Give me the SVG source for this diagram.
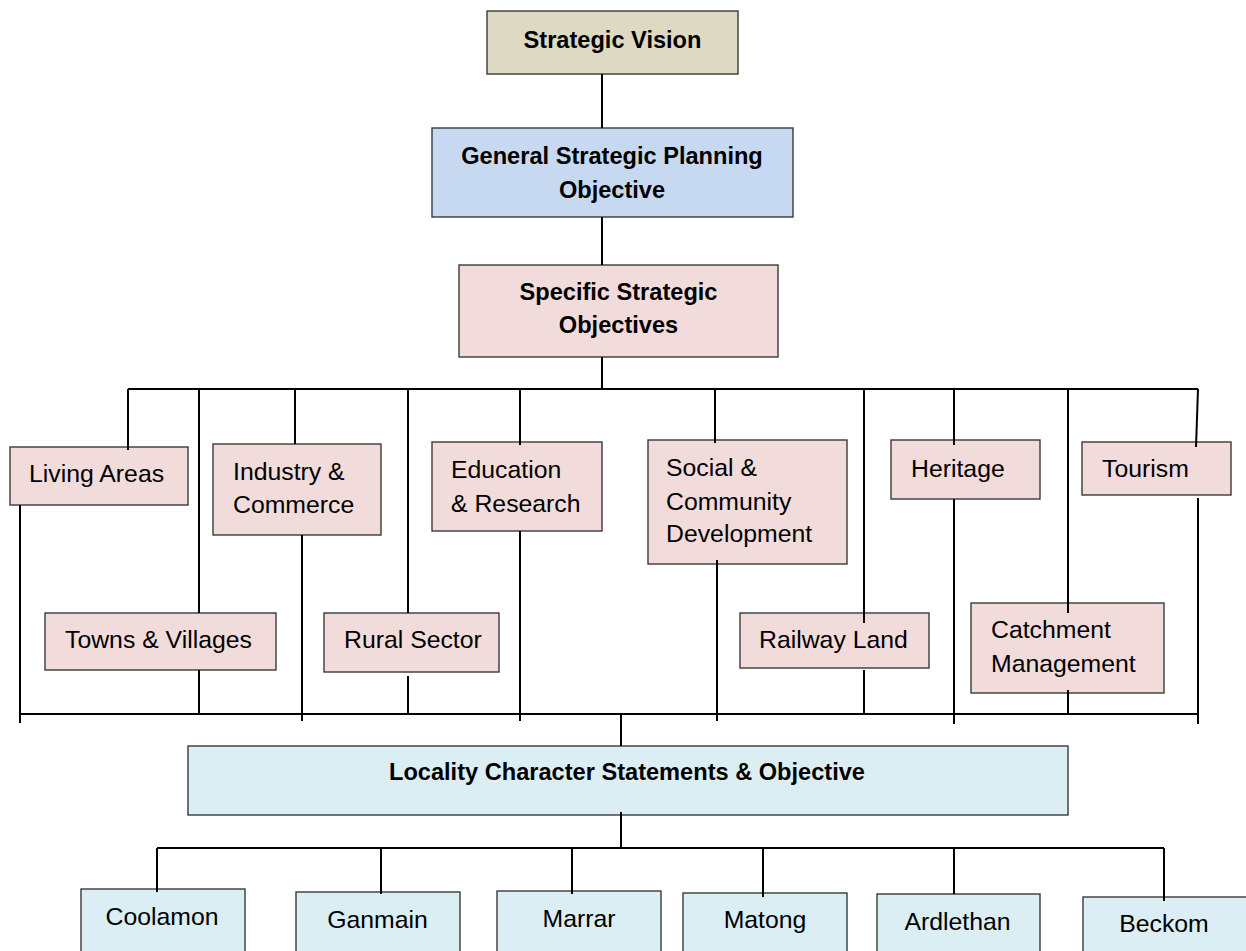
<svg xmlns="http://www.w3.org/2000/svg" width="1246" height="951" viewBox="0 0 1246 951">
<style>
.box{stroke:#3a3a3a;stroke-width:1.4}
.tan{fill:#DDD9C3}
.blue{fill:#C6D9F1}
.pink{fill:#F2DCDB}
.cyan{fill:#DBEEF4}
.b{font-family:"Liberation Sans",Arial,sans-serif;font-weight:bold;font-size:23.6px;fill:#000;text-anchor:middle}
.r{font-family:"Liberation Sans",Arial,sans-serif;font-size:24.8px;fill:#000}
.c{text-anchor:middle}
.ln{stroke:#000;stroke-width:2;fill:none}
</style>
<rect width="1246" height="951" fill="#fff"/>
<g id="strategic-vision"><rect class="box tan" x="487" y="11" width="251" height="63"/><text class="b" x="612.5" y="48">Strategic Vision</text></g>
<g id="general"><rect class="box blue" x="432" y="128" width="361" height="89"/><text class="b" x="612" y="164">General Strategic Planning</text><text class="b" x="612" y="198">Objective</text></g>
<g id="specific"><rect class="box pink" x="459" y="265" width="319" height="92"/><text class="b" x="618.5" y="300">Specific Strategic</text><text class="b" x="618.5" y="333">Objectives</text></g>
<g id="living-areas"><rect class="box pink" x="10" y="447" width="178" height="58"/><text class="r" x="29" y="482">Living Areas</text></g>
<g id="industry"><rect class="box pink" x="213" y="444" width="168" height="91"/><text class="r" x="233" y="480">Industry &amp;</text><text class="r" x="233" y="513">Commerce</text></g>
<g id="towns"><rect class="box pink" x="45" y="613" width="231" height="57"/><text class="r" x="65" y="648">Towns &amp; Villages</text></g>
<g id="rural"><rect class="box pink" x="324" y="613" width="175" height="59"/><text class="r" x="344" y="648">Rural Sector</text></g>
<g id="education"><rect class="box pink" x="432" y="442" width="170" height="89"/><text class="r" x="451" y="478">Education</text><text class="r" x="451" y="512">&amp; Research</text></g>
<g id="social"><rect class="box pink" x="648" y="440" width="199" height="124"/><text class="r" x="666" y="476">Social &amp;</text><text class="r" x="666" y="510">Community</text><text class="r" x="666" y="542">Development</text></g>
<g id="railway"><rect class="box pink" x="740" y="613" width="189" height="55"/><text class="r" x="759" y="648">Railway Land</text></g>
<g id="heritage"><rect class="box pink" x="891" y="440" width="149" height="59"/><text class="r" x="911" y="477">Heritage</text></g>
<g id="catchment"><rect class="box pink" x="971" y="603" width="193" height="90"/><text class="r" x="991" y="638">Catchment</text><text class="r" x="991" y="672">Management</text></g>
<g id="tourism"><rect class="box pink" x="1082" y="442" width="149" height="53"/><text class="r" x="1102" y="477">Tourism</text></g>
<g id="locality"><rect class="box cyan" x="188" y="746" width="880" height="69"/><text class="b" x="627" y="780">Locality Character Statements &amp; Objective</text></g>
<g id="coolamon"><rect class="box cyan" x="81" y="889" width="164" height="70"/><text class="r c" x="162" y="925">Coolamon</text></g>
<g id="ganmain"><rect class="box cyan" x="296" y="892" width="164" height="70"/><text class="r c" x="377.5" y="928">Ganmain</text></g>
<g id="marrar"><rect class="box cyan" x="497" y="891" width="164" height="70"/><text class="r c" x="579" y="927">Marrar</text></g>
<g id="matong"><rect class="box cyan" x="683" y="893" width="164" height="70"/><text class="r c" x="765" y="928">Matong</text></g>
<g id="ardlethan"><rect class="box cyan" x="877" y="894" width="163" height="70"/><text class="r c" x="957.5" y="930">Ardlethan</text></g>
<g id="beckom"><rect class="box cyan" x="1083" y="897" width="170" height="70"/><text class="r c" x="1164" y="932">Beckom</text></g>
<g id="connectors" class="ln">
<path class="ln" d="M602 74V128M602 217V265M602 357V389M128 389H1198"/>
<path class="ln" d="M128 389V450M199 389V613M295 389V444M408 389V613M520 389V445M715 389V443M864 389V623M954 389V445M1068 389V613M1198 389L1196 447"/>
<path class="ln" d="M20 505V723M199 670V714M302 535V721M408 676V714M520 531V721M717 560V721M864 670V714M954 499V724M1068 690V714M1198 498V724"/>
<path class="ln" d="M20 714H1198M621 714V746M621 812V848M157 848H1164"/>
<path class="ln" d="M157 848V892M381 848V894M572 848V894M763 848V897M954 848V894M1164 848V901"/>
</g>
</svg>
